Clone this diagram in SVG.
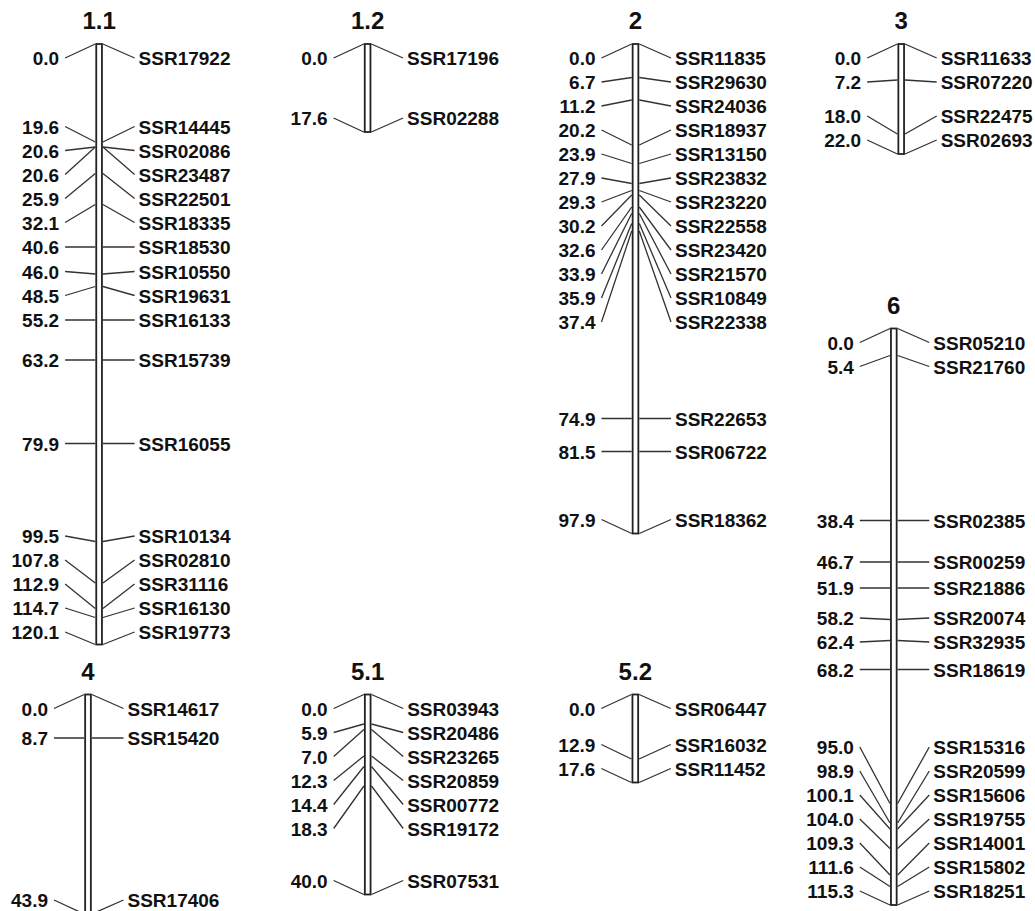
<svg xmlns="http://www.w3.org/2000/svg" width="1035" height="911" viewBox="0 0 1035 911">
<style>
.bar{fill:#fff;stroke:#222;stroke-width:1.8}
.t{font-family:"Liberation Sans",Arial,sans-serif;font-weight:bold;font-size:24px;fill:#111;text-anchor:middle}
.l{font-family:"Liberation Sans",Arial,sans-serif;font-weight:bold;font-size:19px;fill:#111;text-anchor:end}
.r{font-family:"Liberation Sans",Arial,sans-serif;font-weight:bold;font-size:19px;fill:#111}
.c path{fill:none;stroke:#333;stroke-width:1.3}
</style>
<rect width="1035" height="911" fill="#fff"/>
<g id="connectors" class="c">
<!-- 1.1 -->
<path d="M65.1 58L95.3 44M102.9 44L134.6 58"/>
<path d="M65.1 126.5L95.3 142M102.9 142L134.6 126.5"/>
<path d="M65.1 150.5L95.3 147M102.9 147L134.6 150.5"/>
<path d="M65.1 174.5L95.3 147M102.9 147L134.6 174.5"/>
<path d="M65.1 198.5L95.3 173.5M102.9 173.5L134.6 198.5"/>
<path d="M65.1 222.5L95.3 204.5M102.9 204.5L134.6 222.5"/>
<path d="M65.1 247L95.3 247M102.9 247L134.6 247"/>
<path d="M65.1 271.5L95.3 274M102.9 274L134.6 271.5"/>
<path d="M65.1 295.5L95.3 286.5M102.9 286.5L134.6 295.5"/>
<path d="M65.1 320L95.3 320M102.9 320L134.6 320"/>
<path d="M65.1 360L95.3 360M102.9 360L134.6 360"/>
<path d="M65.1 443.5L95.3 443.5M102.9 443.5L134.6 443.5"/>
<path d="M65.1 536L95.3 541.5M102.9 541.5L134.6 536"/>
<path d="M65.1 560L95.3 583M102.9 583L134.6 560"/>
<path d="M65.1 584L95.3 608.5M102.9 608.5L134.6 584"/>
<path d="M65.1 608L95.3 617.5M102.9 617.5L134.6 608"/>
<path d="M65.1 632L95.3 644.5M102.9 644.5L134.6 632"/>
<!-- 1.2 -->
<path d="M333.6 58L363.8 44M371.4 44L403.1 58"/>
<path d="M333.6 118L363.8 132M371.4 132L403.1 118"/>
<!-- 2 -->
<path d="M601.5 58L631.7 44M639.3 44L671 58"/>
<path d="M601.5 82L631.7 77.5M639.3 77.5L671 82"/>
<path d="M601.5 106L631.7 100M639.3 100L671 106"/>
<path d="M601.5 130L631.7 145M639.3 145L671 130"/>
<path d="M601.5 154L631.7 163.5M639.3 163.5L671 154"/>
<path d="M601.5 178L631.7 183.5M639.3 183.5L671 178"/>
<path d="M601.5 202L631.7 190.5M639.3 190.5L671 202"/>
<path d="M601.5 226L631.7 195M639.3 195L671 226"/>
<path d="M601.5 250L631.7 207M639.3 207L671 250"/>
<path d="M601.5 274L631.7 213.5M639.3 213.5L671 274"/>
<path d="M601.5 298L631.7 223.5M639.3 223.5L671 298"/>
<path d="M601.5 322L631.7 231M639.3 231L671 322"/>
<path d="M601.5 418.5L631.7 418.5M639.3 418.5L671 418.5"/>
<path d="M601.5 451.5L631.7 451.5M639.3 451.5L671 451.5"/>
<path d="M601.5 519.5L631.7 533.5M639.3 533.5L671 519.5"/>
<!-- 3 -->
<path d="M867.2 58L897.4 44M905 44L936.7 58"/>
<path d="M867.2 82L897.4 80M905 80L936.7 82"/>
<path d="M867.2 116L897.4 134M905 134L936.7 116"/>
<path d="M867.2 140L897.4 154M905 154L936.7 140"/>
<!-- 6 -->
<path d="M859.8 342.5L890 328.5M897.6 328.5L929.3 342.5"/>
<path d="M859.8 366.5L890 355.5M897.6 355.5L929.3 366.5"/>
<path d="M859.8 520.5L890 520.5M897.6 520.5L929.3 520.5"/>
<path d="M859.8 562L890 562M897.6 562L929.3 562"/>
<path d="M859.8 588L890 588M897.6 588L929.3 588"/>
<path d="M859.8 618L890 619.5M897.6 619.5L929.3 618"/>
<path d="M859.8 642L890 640.5M897.6 640.5L929.3 642"/>
<path d="M859.8 669.5L890 669.5M897.6 669.5L929.3 669.5"/>
<path d="M859.8 747L890 803.5M897.6 803.5L929.3 747"/>
<path d="M859.8 771L890 823M897.6 823L929.3 771"/>
<path d="M859.8 795L890 829M897.6 829L929.3 795"/>
<path d="M859.8 819L890 848.5M897.6 848.5L929.3 819"/>
<path d="M859.8 843L890 875M897.6 875L929.3 843"/>
<path d="M859.8 867L890 886.5M897.6 886.5L929.3 867"/>
<path d="M859.8 891L890 905M897.6 905L929.3 891"/>
<!-- 4 -->
<path d="M54 708.5L84.2 694.5M91.8 694.5L123.5 708.5"/>
<path d="M54 738L84.2 738M91.8 738L123.5 738"/>
<path d="M54 900L84.2 914M91.8 914L123.5 900"/>
<!-- 5.1 -->
<path d="M333.7 708.5L363.9 694.5M371.5 694.5L403.2 708.5"/>
<path d="M333.7 732.5L363.9 724M371.5 724L403.2 732.5"/>
<path d="M333.7 756.5L363.9 729.5M371.5 729.5L403.2 756.5"/>
<path d="M333.7 780.5L363.9 756M371.5 756L403.2 780.5"/>
<path d="M333.7 804.5L363.9 766.5M371.5 766.5L403.2 804.5"/>
<path d="M333.7 828.5L363.9 786M371.5 786L403.2 828.5"/>
<path d="M333.7 880.5L363.9 894.5M371.5 894.5L403.2 880.5"/>
<!-- 5.2 -->
<path d="M601.3 708.5L631.5 694.5M639.1 694.5L670.8 708.5"/>
<path d="M601.3 744.5L631.5 759M639.1 759L670.8 744.5"/>
<path d="M601.3 768.5L631.5 782.5M639.1 782.5L670.8 768.5"/>
</g>
<g id="chr1_1">
<text class="t" x="99.1" y="29">1.1</text>
<rect class="bar" x="96.25" y="44" width="5.7" height="600.5"/>
<text class="l" x="59.1" y="65">0.0</text><text class="r" x="138.6" y="65">SSR17922</text>
<text class="l" x="59.1" y="133.5">19.6</text><text class="r" x="138.6" y="133.5">SSR14445</text>
<text class="l" x="59.1" y="157.5">20.6</text><text class="r" x="138.6" y="157.5">SSR02086</text>
<text class="l" x="59.1" y="181.5">20.6</text><text class="r" x="138.6" y="181.5">SSR23487</text>
<text class="l" x="59.1" y="205.5">25.9</text><text class="r" x="138.6" y="205.5">SSR22501</text>
<text class="l" x="59.1" y="229.5">32.1</text><text class="r" x="138.6" y="229.5">SSR18335</text>
<text class="l" x="59.1" y="254">40.6</text><text class="r" x="138.6" y="254">SSR18530</text>
<text class="l" x="59.1" y="278.5">46.0</text><text class="r" x="138.6" y="278.5">SSR10550</text>
<text class="l" x="59.1" y="302.5">48.5</text><text class="r" x="138.6" y="302.5">SSR19631</text>
<text class="l" x="59.1" y="327">55.2</text><text class="r" x="138.6" y="327">SSR16133</text>
<text class="l" x="59.1" y="367">63.2</text><text class="r" x="138.6" y="367">SSR15739</text>
<text class="l" x="59.1" y="450.5">79.9</text><text class="r" x="138.6" y="450.5">SSR16055</text>
<text class="l" x="59.1" y="543">99.5</text><text class="r" x="138.6" y="543">SSR10134</text>
<text class="l" x="59.1" y="567">107.8</text><text class="r" x="138.6" y="567">SSR02810</text>
<text class="l" x="59.1" y="591">112.9</text><text class="r" x="138.6" y="591">SSR31116</text>
<text class="l" x="59.1" y="615">114.7</text><text class="r" x="138.6" y="615">SSR16130</text>
<text class="l" x="59.1" y="639">120.1</text><text class="r" x="138.6" y="639">SSR19773</text>
</g>
<g id="chr1_2">
<text class="t" x="367.6" y="29">1.2</text>
<rect class="bar" x="364.75" y="44" width="5.7" height="88"/>
<text class="l" x="327.6" y="65">0.0</text><text class="r" x="407.1" y="65">SSR17196</text>
<text class="l" x="327.6" y="125">17.6</text><text class="r" x="407.1" y="125">SSR02288</text>
</g>
<g id="chr2">
<text class="t" x="635.5" y="29">2</text>
<rect class="bar" x="632.65" y="44" width="5.7" height="489.5"/>
<text class="l" x="595.5" y="65">0.0</text><text class="r" x="675" y="65">SSR11835</text>
<text class="l" x="595.5" y="89">6.7</text><text class="r" x="675" y="89">SSR29630</text>
<text class="l" x="595.5" y="113">11.2</text><text class="r" x="675" y="113">SSR24036</text>
<text class="l" x="595.5" y="137">20.2</text><text class="r" x="675" y="137">SSR18937</text>
<text class="l" x="595.5" y="161">23.9</text><text class="r" x="675" y="161">SSR13150</text>
<text class="l" x="595.5" y="185">27.9</text><text class="r" x="675" y="185">SSR23832</text>
<text class="l" x="595.5" y="209">29.3</text><text class="r" x="675" y="209">SSR23220</text>
<text class="l" x="595.5" y="233">30.2</text><text class="r" x="675" y="233">SSR22558</text>
<text class="l" x="595.5" y="257">32.6</text><text class="r" x="675" y="257">SSR23420</text>
<text class="l" x="595.5" y="281">33.9</text><text class="r" x="675" y="281">SSR21570</text>
<text class="l" x="595.5" y="305">35.9</text><text class="r" x="675" y="305">SSR10849</text>
<text class="l" x="595.5" y="329">37.4</text><text class="r" x="675" y="329">SSR22338</text>
<text class="l" x="595.5" y="425.5">74.9</text><text class="r" x="675" y="425.5">SSR22653</text>
<text class="l" x="595.5" y="458.5">81.5</text><text class="r" x="675" y="458.5">SSR06722</text>
<text class="l" x="595.5" y="526.5">97.9</text><text class="r" x="675" y="526.5">SSR18362</text>
</g>
<g id="chr3">
<text class="t" x="901.2" y="29">3</text>
<rect class="bar" x="898.35" y="44" width="5.7" height="110"/>
<text class="l" x="861.2" y="65">0.0</text><text class="r" x="940.7" y="65">SSR11633</text>
<text class="l" x="861.2" y="89">7.2</text><text class="r" x="940.7" y="89">SSR07220</text>
<text class="l" x="861.2" y="123">18.0</text><text class="r" x="940.7" y="123">SSR22475</text>
<text class="l" x="861.2" y="147">22.0</text><text class="r" x="940.7" y="147">SSR02693</text>
</g>
<g id="chr6">
<text class="t" x="893.8" y="313.5">6</text>
<rect class="bar" x="890.95" y="328.5" width="5.7" height="576.5"/>
<text class="l" x="853.8" y="349.5">0.0</text><text class="r" x="933.3" y="349.5">SSR05210</text>
<text class="l" x="853.8" y="373.5">5.4</text><text class="r" x="933.3" y="373.5">SSR21760</text>
<text class="l" x="853.8" y="527.5">38.4</text><text class="r" x="933.3" y="527.5">SSR02385</text>
<text class="l" x="853.8" y="569">46.7</text><text class="r" x="933.3" y="569">SSR00259</text>
<text class="l" x="853.8" y="595">51.9</text><text class="r" x="933.3" y="595">SSR21886</text>
<text class="l" x="853.8" y="625">58.2</text><text class="r" x="933.3" y="625">SSR20074</text>
<text class="l" x="853.8" y="649">62.4</text><text class="r" x="933.3" y="649">SSR32935</text>
<text class="l" x="853.8" y="676.5">68.2</text><text class="r" x="933.3" y="676.5">SSR18619</text>
<text class="l" x="853.8" y="754">95.0</text><text class="r" x="933.3" y="754">SSR15316</text>
<text class="l" x="853.8" y="778">98.9</text><text class="r" x="933.3" y="778">SSR20599</text>
<text class="l" x="853.8" y="802">100.1</text><text class="r" x="933.3" y="802">SSR15606</text>
<text class="l" x="853.8" y="826">104.0</text><text class="r" x="933.3" y="826">SSR19755</text>
<text class="l" x="853.8" y="850">109.3</text><text class="r" x="933.3" y="850">SSR14001</text>
<text class="l" x="853.8" y="874">111.6</text><text class="r" x="933.3" y="874">SSR15802</text>
<text class="l" x="853.8" y="898">115.3</text><text class="r" x="933.3" y="898">SSR18251</text>
</g>
<g id="chr4">
<text class="t" x="88" y="679.5">4</text>
<rect class="bar" x="85.15" y="694.5" width="5.7" height="219.5"/>
<text class="l" x="48" y="715.5">0.0</text><text class="r" x="127.5" y="715.5">SSR14617</text>
<text class="l" x="48" y="745">8.7</text><text class="r" x="127.5" y="745">SSR15420</text>
<text class="l" x="48" y="907">43.9</text><text class="r" x="127.5" y="907">SSR17406</text>
</g>
<g id="chr5_1">
<text class="t" x="367.7" y="679.5">5.1</text>
<rect class="bar" x="364.85" y="694.5" width="5.7" height="200"/>
<text class="l" x="327.7" y="715.5">0.0</text><text class="r" x="407.2" y="715.5">SSR03943</text>
<text class="l" x="327.7" y="739.5">5.9</text><text class="r" x="407.2" y="739.5">SSR20486</text>
<text class="l" x="327.7" y="763.5">7.0</text><text class="r" x="407.2" y="763.5">SSR23265</text>
<text class="l" x="327.7" y="787.5">12.3</text><text class="r" x="407.2" y="787.5">SSR20859</text>
<text class="l" x="327.7" y="811.5">14.4</text><text class="r" x="407.2" y="811.5">SSR00772</text>
<text class="l" x="327.7" y="835.5">18.3</text><text class="r" x="407.2" y="835.5">SSR19172</text>
<text class="l" x="327.7" y="887.5">40.0</text><text class="r" x="407.2" y="887.5">SSR07531</text>
</g>
<g id="chr5_2">
<text class="t" x="635.3" y="679.5">5.2</text>
<rect class="bar" x="632.45" y="694.5" width="5.7" height="88"/>
<text class="l" x="595.3" y="715.5">0.0</text><text class="r" x="674.8" y="715.5">SSR06447</text>
<text class="l" x="595.3" y="751.5">12.9</text><text class="r" x="674.8" y="751.5">SSR16032</text>
<text class="l" x="595.3" y="775.5">17.6</text><text class="r" x="674.8" y="775.5">SSR11452</text>
</g>
</svg>
